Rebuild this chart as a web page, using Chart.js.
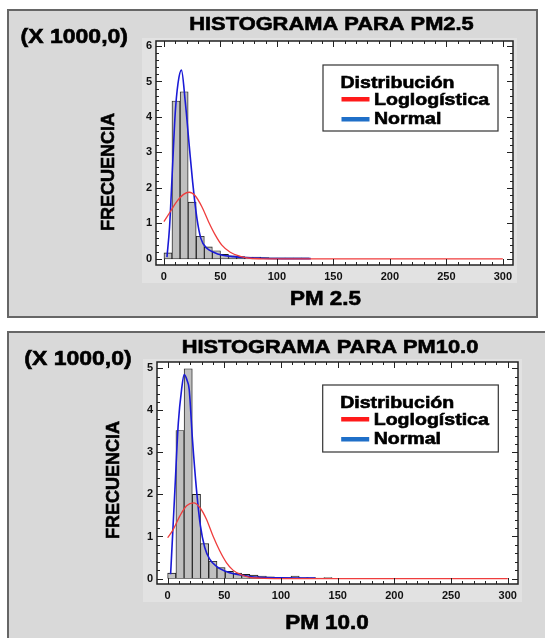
<!DOCTYPE html>
<html>
<head>
<meta charset="utf-8">
<script src="https://cdn.jsdelivr.net/npm/chart.js@4.4.0/dist/chart.umd.min.js"></script>
<style>
  body { margin: 0; background: #fff; width: 545px; height: 638px; overflow: hidden; position: relative; }
  .panel { position: absolute; background: #d9d9d9; border: 2px solid #666; box-sizing: border-box; }
  #p1 { left: 7px; top: 9px; width: 531px; height: 309px; }
  #p2 { left: 7px; top: 331px; width: 545px; height: 320px; }
  canvas { display: block; }
</style>
</head>
<body>
<div class="panel" id="p1"><canvas id="c1" width="527" height="305"></canvas></div>
<div class="panel" id="p2"><canvas id="c2" width="541" height="316"></canvas></div>
<script>
// shared axis ticks
const xTicks = [0, 50, 100, 150, 200, 250, 300];
const pm25YTicks = [0, 1, 2, 3, 4, 5, 6];
const pm10YTicks = [0, 1, 2, 3, 4, 5];

// PM2.5 histogram (frequency in thousands)
const pm25Bins = [3.6, 10.7, 17.9, 25.0, 32.2, 39.3, 46.5, 53.6, 60.8, 67.9, 75.1, 82.2, 89.4, 96.5, 103.7, 110.8, 118.0, 125.1];
const pm25Freq = [0.17, 4.45, 4.71, 1.60, 0.64, 0.34, 0.23, 0.13, 0.09, 0.07, 0.05, 0.05, 0.04, 0.03, 0.03, 0.03, 0.03, 0.03];
const pm25NormalX = [2.7, 5, 7.5, 10, 12.5, 15.5, 18.9, 22.4, 25.4, 29.2, 32.7, 38, 44, 51, 61.6, 73, 88, 105, 130];
const pm25NormalY = [0.05, 0.9, 2.5, 4.1, 4.95, 5.32, 4.43, 3.2, 2.18, 1.15, 0.58, 0.3, 0.19, 0.11, 0.066, 0.04, 0.02, 0.01, 0.01];
const pm25LoglogX = [0, 5.6, 11.5, 17.4, 22.4, 27.7, 33.6, 39.5, 45.4, 51.3, 58.7, 67.6, 76, 90, 120, 300];
const pm25LoglogY = [1.05, 1.33, 1.62, 1.82, 1.88, 1.78, 1.47, 1.05, 0.68, 0.39, 0.19, 0.075, 0.02, 0.004, 0, 0];

// PM10.0 histogram
const pm10Bins = [3.6, 10.9, 18.1, 25.4, 32.6, 39.9, 47.1, 54.4, 61.6, 68.9, 76.1, 83.4, 90.6, 97.9, 105.1, 112.4, 119.6, 126.9, 134.1, 141.4];
const pm10Freq = [0.13, 3.52, 4.99, 2.00, 0.83, 0.41, 0.26, 0.17, 0.13, 0.10, 0.08, 0.06, 0.04, 0.03, 0.02, 0.06, 0.02, 0.02, 0.01, 0.02];
const pm10NormalX = [2.6, 4.5, 6.4, 9.4, 12.3, 14.6, 17.3, 19, 21.9, 25.4, 28.9, 32.7, 37.1, 43, 50.3, 60.5, 72.2, 81, 100, 130];
const pm10NormalY = [0.1, 1.1, 2.12, 3.7, 4.5, 4.85, 4.7, 4.5, 3.3, 2.12, 1.25, 0.74, 0.46, 0.29, 0.18, 0.1, 0.05, 0.03, 0.015, 0.01];
const pm10LoglogX = [0, 5, 10.8, 16.7, 23, 28.4, 34.2, 40, 45.9, 51.8, 57.6, 64.9, 72.2, 81, 100, 300];
const pm10LoglogY = [0.97, 1.17, 1.49, 1.73, 1.8, 1.69, 1.41, 1.01, 0.66, 0.38, 0.2, 0.09, 0.03, 0.01, 0, 0];

const FONT = '"Liberation Sans", Arial, sans-serif';

// bold text widened a bit to look like the heavy original face
function heavyText(ctx, text, x, y, size, stretch, align) {
  ctx.save();
  ctx.font = `bold ${size}px ${FONT}`;
  ctx.textBaseline = 'middle';
  ctx.textAlign = 'left';
  const w = ctx.measureText(text).width * stretch;
  const left = align === 'center' ? x - w / 2 : align === 'right' ? x - w : x;
  ctx.translate(left, y);
  ctx.scale(stretch, 1);
  ctx.fillStyle = '#000';
  ctx.strokeStyle = '#000';
  ctx.lineWidth = 0.6;
  ctx.fillText(text, 0, 0);
  ctx.strokeText(text, 0, 0);
  ctx.restore();
}

function panelPlugin(p) {
  return {
    id: 'panel_' + p.canvas,
    beforeDraw(chart) {
      const { ctx, chartArea: a } = chart;
      ctx.save();
      ctx.fillStyle = '#e2e2e2';
      ctx.fillRect(a.left - 14, a.top - 3, a.right - a.left + 18, a.bottom - a.top + 21);
      ctx.fillStyle = '#fff';
      ctx.fillRect(a.left, a.top, a.right - a.left, a.bottom - a.top);
      ctx.restore();
    },
    afterDraw(chart) {
      const { ctx, chartArea: a, scales: { x, y } } = chart;
      ctx.save();
      ctx.strokeStyle = '#222';
      ctx.lineWidth = 1.5;
      ctx.strokeRect(a.left, a.top, a.right - a.left, a.bottom - a.top);

      // inward ticks on all four sides
      ctx.lineWidth = 1;
      ctx.beginPath();
      for (let v = 0; v <= 300; v += 10) {
        const px = Math.round(x.getPixelForValue(v)) + 0.5;
        const len = v % 50 === 0 ? 6 : 3;
        ctx.moveTo(px, a.bottom); ctx.lineTo(px, a.bottom - len);
        ctx.moveTo(px, a.top); ctx.lineTo(px, a.top + len);
      }
      for (let i = 0; i / 5 <= y.max; i++) {
        const py = Math.round(y.getPixelForValue(i / 5)) + 0.5;
        const len = i % 5 === 0 ? 6 : 3;
        ctx.moveTo(a.left, py); ctx.lineTo(a.left + len, py);
        ctx.moveTo(a.right, py); ctx.lineTo(a.right - len, py);
      }
      ctx.stroke();
      ctx.restore();

      heavyText(ctx, p.title, p.titleX, p.titleY, 19, 1.15, 'center');
      heavyText(ctx, '(X 1000,0)', p.unitX, p.unitY, 20, 1.15, 'right');
      heavyText(ctx, p.xTitle, p.xTitleX, p.xTitleY, 19.5, 1.15, 'center');

      ctx.save();
      ctx.translate(p.yTitleX, p.yTitleY);
      ctx.rotate(-Math.PI / 2);
      heavyText(ctx, 'FRECUENCIA', 0, 0, 18, 1.0, 'center');
      ctx.restore();

      // legend box
      const L = p.legend;
      ctx.save();
      ctx.fillStyle = '#fff';
      ctx.fillRect(L.x, L.y, L.w, L.h);
      ctx.strokeStyle = '#333';
      ctx.lineWidth = 1.2;
      ctx.strokeRect(L.x, L.y, L.w, L.h);
      ctx.fillStyle = '#ff1a1a';
      ctx.fillRect(L.x + 18.5, L.y + 32, 28, 4.5);
      ctx.fillStyle = '#1f6fc8';
      ctx.fillRect(L.x + 18.5, L.y + 52, 28, 4.5);
      ctx.restore();
      heavyText(ctx, 'Distribución', L.x + 17.5, L.y + 18.5, 17, 1.15, 'left');
      heavyText(ctx, 'Loglogística', L.x + 51, L.y + 35.5, 17, 1.15, 'left');
      heavyText(ctx, 'Normal', L.x + 51, L.y + 54.5, 17, 1.15, 'left');
    }
  };
}

function makeChart(p) {
  const tickFont = { family: FONT, size: 11, weight: 'bold' };
  return new Chart(document.getElementById(p.canvas), {
    type: 'bar',
    data: {
      datasets: [
        {
          type: 'line', label: 'Loglogística',
          data: p.logX.map((x, i) => ({ x, y: p.logY[i] })),
          borderColor: '#ef3d3d', borderWidth: 1.3, pointRadius: 0,
          cubicInterpolationMode: 'monotone', order: 1
        },
        {
          type: 'line', label: 'Normal',
          data: p.normX.map((x, i) => ({ x, y: p.normY[i] })),
          borderColor: '#1a1ad6', borderWidth: 1.6, pointRadius: 0,
          cubicInterpolationMode: 'monotone', order: 2
        },
        {
          type: 'bar', label: 'Frecuencia',
          data: p.bins.map((x, i) => ({ x, y: p.freq[i] })),
          backgroundColor: '#c0c0c0', borderColor: '#1a1a1a', borderWidth: 0.9,
          borderSkipped: false, barPercentage: 1, categoryPercentage: 1, order: 3
        }
      ]
    },
    options: {
      responsive: false,
      animation: false,
      events: [],
      layout: { padding: p.pad },
      plugins: { legend: { display: false }, tooltip: { enabled: false } },
      scales: {
        x: {
          type: 'linear', min: p.xMin, max: 309, offset: false,
          grid: { display: false, drawTicks: false }, border: { display: false },
          ticks: { font: tickFont, color: '#111', padding: 5, maxRotation: 0, autoSkip: false },
          afterBuildTicks: s => { s.ticks = xTicks.map(v => ({ value: v })); },
          afterFit: s => { s.height = 22; }
        },
        y: {
          type: 'linear', min: p.yMin, max: p.yMax,
          grid: { display: false, drawTicks: false }, border: { display: false },
          ticks: { font: tickFont, color: '#111', padding: 4, autoSkip: false },
          afterBuildTicks: s => { s.ticks = p.yTicks.map(v => ({ value: v })); },
          afterFit: s => { s.width = 24; }
        }
      }
    },
    plugins: [panelPlugin(p)]
  });
}

makeChart({
  canvas: 'c1',
  bins: pm25Bins, freq: pm25Freq,
  normX: pm25NormalX, normY: pm25NormalY,
  logX: pm25LoglogX, logY: pm25LoglogY,
  yTicks: pm25YTicks, xMin: -7, yMin: -0.17, yMax: 6.14,
  pad: { left: 123, right: 23, top: 30, bottom: 29 },
  title: 'HISTOGRAMA PARA PM2.5', titleX: 322.5, titleY: 13.5,
  unitX: 119, unitY: 26.5,
  xTitle: 'PM 2.5', xTitleX: 316.5, xTitleY: 288.5,
  yTitleX: 100, yTitleY: 161,
  legend: { x: 314, y: 54, w: 175, h: 66 }
});

makeChart({
  canvas: 'c2',
  bins: pm10Bins, freq: pm10Freq,
  normX: pm10NormalX, normY: pm10NormalY,
  logX: pm10LoglogX, logY: pm10LoglogY,
  yTicks: pm10YTicks, xMin: -9.4, yMin: -0.13, yMax: 5.15,
  pad: { left: 124, right: 32, top: 29, bottom: 43 },
  title: 'HISTOGRAMA PARA PM10.0', titleX: 321, titleY: 14.5,
  unitX: 122.7, unitY: 26,
  xTitle: 'PM 10.0', xTitleX: 318, xTitleY: 290.5,
  yTitleX: 104.8, yTitleY: 147,
  legend: { x: 313.7, y: 52, w: 175.6, h: 67 }
});
</script>
</body>
</html>
